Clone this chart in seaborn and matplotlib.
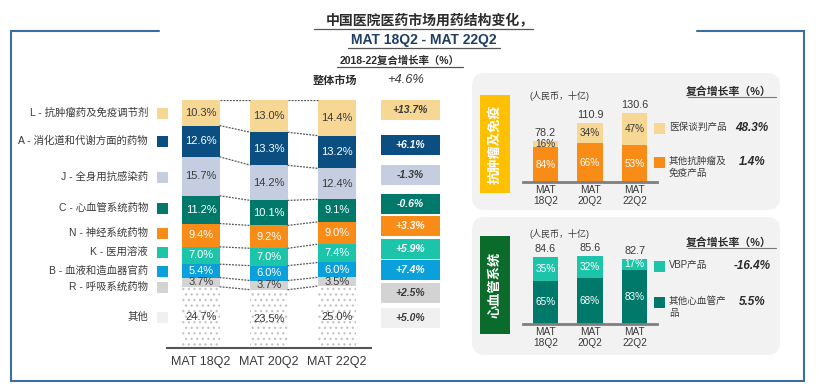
import numpy as np
import pandas as pd
import matplotlib
matplotlib.use("Agg")
import matplotlib.pyplot as plt
from matplotlib.patches import FancyBboxPatch, Rectangle
import seaborn as sns

# ---------------- data ----------------
periods = ["MAT 18Q2", "MAT 20Q2", "MAT 22Q2"]
categories = ["L - 抗肿瘤药及免疫调节剂", "A - 消化道和代谢方面的药物", "J - 全身用抗感染药",
              "C - 心血管系统药物", "N - 神经系统药物", "K - 医用溶液",
              "B - 血液和造血器官药", "R - 呼吸系统药物", "其他"]
share_18 = [10.3, 12.6, 15.7, 11.2, 9.4, 7.0, 5.4, 3.7, 24.7]
share_20 = [13.0, 13.3, 14.2, 10.1, 9.2, 7.0, 6.0, 3.7, 23.5]
share_22 = [14.4, 13.2, 12.4, 9.1, 9.0, 7.4, 6.0, 3.5, 25.0]
cagr_labels = ["+13.7%", "+6.1%", "-1.3%", "-0.6%", "+3.3%", "+5.9%", "+7.4%", "+2.5%", "+5.0%"]
overall_cagr = "+4.6%"

panel_ticks = ["MAT\n18Q2", "MAT\n20Q2", "MAT\n22Q2"]
onco_total = [78.2, 110.9, 130.6]
onco_nrdl_pct = [16, 34, 47]
onco_other_pct = [84, 66, 53]
onco_legend = ["医保谈判产品", "其他抗肿瘤及\n免疫产品"]
onco_cagr = ["48.3%", "1.4%"]

cv_total = [84.6, 85.6, 82.7]
cv_vbp_pct = [35, 32, 17]
cv_other_pct = [65, 68, 83]
cv_legend = ["VBP产品", "其他心血管产\n品"]
cv_cagr = ["-16.4%", "5.5%"]

# ---------------- style ----------------
seg_colors = ["#F7D794", "#0B4F82", "#C5CEE0", "#00786A", "#F98C16",
              "#1CC5AA", "#0AA0DC", "#D3D3D3", "#FFFFFF"]
seg_text = ["#3A3A3A", "white", "#3A3A3A", "white", "white", "white", "white", "#3A3A3A", "#3A3A3A"]
cagr_box_colors = seg_colors[:-1] + ["#F0F0F0"]

sns.set_style("white")
plt.rcParams["font.family"] = ["Liberation Sans", "Noto Sans CJK SC", "DejaVu Sans"]
plt.rcParams["hatch.color"] = "#C4C4C4"
plt.rcParams["hatch.linewidth"] = 0.9
TXT = "#3A3A3A"

W, H = 818, 389
fig = plt.figure(figsize=(W / 100, H / 100), dpi=100)


def add_ax(left, top, right, bottom, z=2):
    return fig.add_axes([left / W, 1 - bottom / H, (right - left) / W, (bottom - top) / H], zorder=z)


# background overlay in pixel coordinates
bg = fig.add_axes([0, 0, 1, 1], zorder=0)
bg.set_xlim(0, W)
bg.set_ylim(H, 0)
bg.axis("off")

# frame
fc = "#3A6EA5"
bg.plot([159, 11, 11, 804, 804, 697], [31, 31, 381, 381, 31, 31], color=fc, lw=1.5, solid_joinstyle="miter")

# title
bg.text(430, 21, "中国医院医药市场用药结构变化，", ha="center", va="center", fontsize=10, fontweight="bold", color="#2B2B2B")
bg.plot([314, 533], [29, 29], color="#555555", lw=0.9)
bg.text(424, 40, "MAT 18Q2 - MAT 22Q2", ha="center", va="center", fontsize=10, fontweight="bold", color="#1F3F66")
bg.plot([348, 500], [47.5, 47.5], color="#555555", lw=0.9)
bg.text(400, 61, "2018-22复合增长率（%）", ha="center", va="center", fontsize=7.5, fontweight="bold", color="#2B2B2B")
bg.plot([337, 463], [67, 67], color="#555555", lw=0.9)
bg.text(335, 81, "整体市场", ha="center", va="center", fontsize=8, fontweight="bold", color="#2B2B2B")
bg.text(406, 80, overall_cagr, ha="center", va="center", fontsize=9.3, fontstyle="italic", color=TXT)

# left legend
legend_y = [113, 141, 177, 208, 233, 252, 271, 287, 317]
for lab, yy, col in zip(categories, legend_y, seg_colors):
    bg.text(148, yy, lab, ha="right", va="center", fontsize=7.5, color=TXT)
    fcol = col if col != "#FFFFFF" else "#F0F0F0"
    bg.add_patch(Rectangle((157, yy - 5.5), 11, 11, facecolor=fcol, edgecolor="none"))

# CAGR boxes
box_y = [110, 145, 175, 204, 226, 249, 270, 293, 318]
for lab, yy, col, tc in zip(cagr_labels, box_y, cagr_box_colors, seg_text):
    bg.add_patch(Rectangle((381, yy - 10), 59, 20, facecolor=col, edgecolor="none"))
    bg.text(410.5, yy, lab, ha="center", va="center", fontsize=7.5, fontweight="bold",
            fontstyle="italic", color=tc)

# ---------------- main stacked chart ----------------
ax = add_ax(167, 100, 371, 348, z=2)
ax.patch.set_alpha(0)
df = pd.DataFrame({"cat": np.repeat(categories, 3), "period": periods * len(categories),
                   "share": np.ravel(np.column_stack([share_18, share_20, share_22]))})
wide = df.pivot(index="cat", columns="period", values="share").loc[categories, periods]
bw = 0.545
n = len(categories)
for i in range(n):
    cum = wide.iloc[i:].sum(axis=0)
    kw = dict(edgecolor="none", linewidth=0)
    if categories[i] == "其他":
        kw = dict(edgecolor="#C4C4C4", linewidth=0, hatch="...")
    sns.barplot(x=list(cum.index), y=list(cum.values), color=seg_colors[i], saturation=1,
                width=bw, errorbar=None, ax=ax, **kw)
# labels and connectors
for j, p in enumerate(periods):
    for i in range(n):
        below = wide[p].iloc[i + 1:].sum()
        v = wide[p].iloc[i]
        ax.text(j, below + v / 2, f"{v:.1f}%", ha="center", va="center", fontsize=8, color=seg_text[i])
for j in range(len(periods) - 1):
    for i in range(n):
        y0 = wide[periods[j]].iloc[i:].sum()
        y1 = wide[periods[j + 1]].iloc[i:].sum()
        ax.plot([j + bw / 2, j + 1 - bw / 2], [y0, y1], color="#555555", lw=0.9, ls=(0, (1.5, 1)))
ax.set_xlim(-0.5, 2.5)
ax.set_ylim(0, 100)
ax.set_xlabel("")
ax.set_ylabel("")
ax.set_yticks([])
ax.set_xticks(range(3))
ax.set_xticklabels(periods, fontsize=9, color=TXT)
ax.tick_params(axis="x", length=0, pad=6)
for s in ["top", "left", "right"]:
    ax.spines[s].set_visible(False)
ax.spines["bottom"].set_color("#555555")
ax.spines["bottom"].set_linewidth(1.5)


# ---------------- right panels ----------------
def panel(top, bottom, tag_top, tag_bottom, tag_color, tag_text, totals, top_pct, bot_pct,
          top_color, bot_color, top_tc, legend, cagr, ax_top, ax_bottom, scale,
          sq_y, leg_y, unit_y, head_y):
    bg.add_patch(FancyBboxPatch((472, top), 308, bottom - top, boxstyle="round,pad=0,rounding_size=13",
                                facecolor="#F2F2F2", edgecolor="none"))
    bg.add_patch(Rectangle((480, tag_top), 30, tag_bottom - tag_top, facecolor=tag_color, edgecolor="none"))
    bg.text(495, (tag_top + tag_bottom) / 2, tag_text, rotation=90, ha="center", va="center",
            fontsize=9.5, fontweight="bold", color="white")
    bg.text(529, unit_y, "(人民币，十亿)", ha="left", va="center", fontsize=6.5, color=TXT)
    bg.text(729, head_y, "复合增长率（%）", ha="center", va="center", fontsize=7.8, fontweight="bold", color="#2B2B2B")
    bg.plot([688, 776], [head_y + 6, head_y + 6], color="#777777", lw=0.8)
    for k in range(2):
        col = top_color if k == 0 else bot_color
        bg.add_patch(Rectangle((654, sq_y[k] - 5), 11, 11, facecolor=col, edgecolor="none"))
        bg.text(669, leg_y[k], legend[k], ha="left", va="top", fontsize=6.9, color=TXT, linespacing=1.2)
        bg.text(752, sq_y[k], cagr[k], ha="center", va="center", fontsize=8.5, fontweight="bold",
                fontstyle="italic", color="#2B2B2B")

    a = add_ax(523, ax_top, 657, ax_bottom, z=2)
    a.patch.set_alpha(0)
    tot = np.array(totals)
    bot = tot * np.array(bot_pct) / 100
    sns.barplot(x=panel_ticks, y=list(tot), color=top_color, saturation=1, width=0.56,
                errorbar=None, ax=a, edgecolor="none", linewidth=0)
    sns.barplot(x=panel_ticks, y=list(bot), color=bot_color, saturation=1, width=0.56,
                errorbar=None, ax=a, edgecolor="none", linewidth=0)
    for j in range(3):
        a.text(j, tot[j] + 3 / scale, f"{tot[j]:.1f}", ha="center", va="bottom", fontsize=7.8, color=TXT)
        a.text(j, bot[j] + (tot[j] - bot[j]) / 2, f"{top_pct[j]}%", ha="center", va="center",
               fontsize=7.2, color=top_tc)
        a.text(j, bot[j] / 2, f"{bot_pct[j]}%", ha="center", va="center", fontsize=7.2, color="white")
    a.set_xlim(-0.5, 2.5)
    a.set_ylim(0, (ax_bottom - ax_top) / scale)
    a.set_xlabel("")
    a.set_ylabel("")
    a.set_yticks([])
    a.set_xticks(range(3))
    a.set_xticklabels(panel_ticks, fontsize=7.3, color=TXT, linespacing=1.15)
    a.tick_params(axis="x", length=0, pad=2)
    for s in ["top", "left", "right"]:
        a.spines[s].set_visible(False)
    a.spines["bottom"].set_color("#7F7F7F")
    a.spines["bottom"].set_linewidth(2)


panel(73, 210, 95, 193, "#FFC000", "抗肿瘤及免疫", onco_total, onco_nrdl_pct, onco_other_pct,
      "#F7D794", "#F98C16", TXT, onco_legend, onco_cagr, 100, 182, 0.528,
      [128, 162], [122, 156], 96, 91)
panel(217, 355, 236, 334, "#0B6B2B", "心血管系统", cv_total, cv_vbp_pct, cv_other_pct,
      "#1CC5AA", "#00786A", "white", cv_legend, cv_cagr, 240, 324, 0.79,
      [266, 302], [260, 296], 234, 242)

fig.savefig("out.png", dpi=100)
